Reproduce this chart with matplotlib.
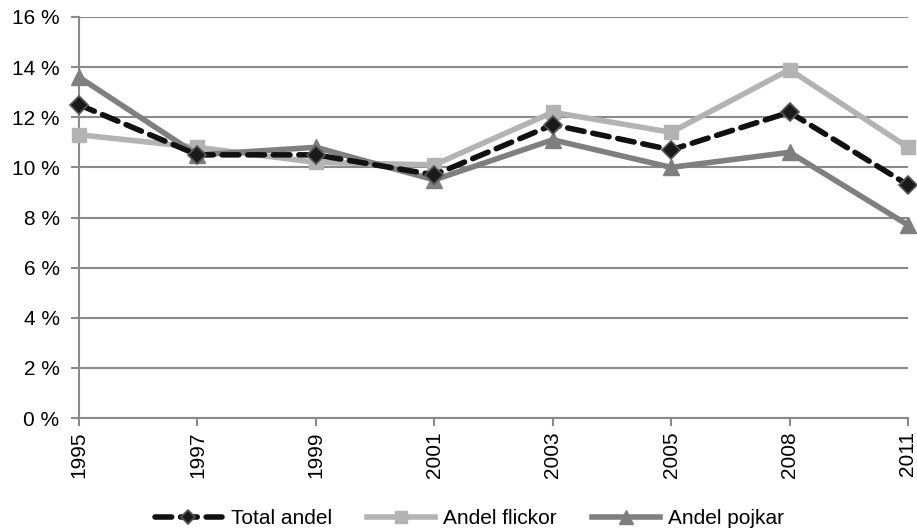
import matplotlib.pyplot as plt
from matplotlib.ticker import FuncFormatter

# Data
years = ['1995', '1997', '1999', '2001', '2003', '2005', '2008', '2011']
total = [12.5, 10.5, 10.5, 9.7, 11.7, 10.7, 12.2, 9.3]
flickor = [11.3, 10.8, 10.2, 10.1, 12.2, 11.4, 13.9, 10.8]
pojkar = [13.6, 10.5, 10.8, 9.5, 11.1, 10.0, 10.6, 7.7]

plt.rcParams['font.family'] = ['Liberation Sans', 'DejaVu Sans']

fig = plt.figure(figsize=(9.17, 5.29), dpi=100)
ax = fig.add_axes([79 / 917, 1 - 418 / 529, (908 - 79) / 917, (418 - 17) / 529])

x = range(len(years))
grid_c = '#8a8a8a'

ax.plot(x, flickor, color='#b3b3b3', lw=4, marker='s', ms=10, mfc='#b3b3b3', mec='#b3b3b3',
        label='Andel flickor', zorder=3, clip_on=False)
ax.plot(x, pojkar, color='#7f7f7f', lw=4, marker='^', ms=12, mfc='#7f7f7f', mec='#7f7f7f',
        label='Andel pojkar', zorder=4, clip_on=False)
ax.plot(x, total, color='#111111', lw=4, ls=(0, (3, 1.6)), dash_capstyle='round',
        marker='D', ms=9, mfc='#1a1a1a', mec='#555555', mew=1.2, label='Total andel',
        zorder=5, clip_on=False)

ax.set_ylim(0, 16)
ax.set_yticks(range(0, 17, 2))
ax.yaxis.set_major_formatter(FuncFormatter(lambda v, p: f'{int(v)} %'))
ax.set_xlim(0, len(years) - 1)
ax.set_xticks(list(x))
ax.set_xticklabels(years, rotation=90)

ax.grid(True, axis='y', color=grid_c, lw=1.5)
ax.set_axisbelow(True)
for s in ['top', 'right']:
    ax.spines[s].set_visible(False)
for s in ['left', 'bottom']:
    ax.spines[s].set_color(grid_c)
    ax.spines[s].set_linewidth(1.5)
ax.tick_params(axis='both', colors=grid_c, length=6, width=1.5, labelsize=15, labelcolor='black')
ax.tick_params(axis='y', pad=8)

handles, labels = ax.get_legend_handles_labels()
order = [2, 0, 1]
ax.legend([handles[i] for i in order], [labels[i] for i in order], loc='lower center',
          bbox_to_anchor=(0.471, -0.322), ncol=3, frameon=False, fontsize=15,
          handlelength=3.25, columnspacing=1.7, handletextpad=0.4, markerscale=0.8)

fig.savefig('out.png', dpi=100)
